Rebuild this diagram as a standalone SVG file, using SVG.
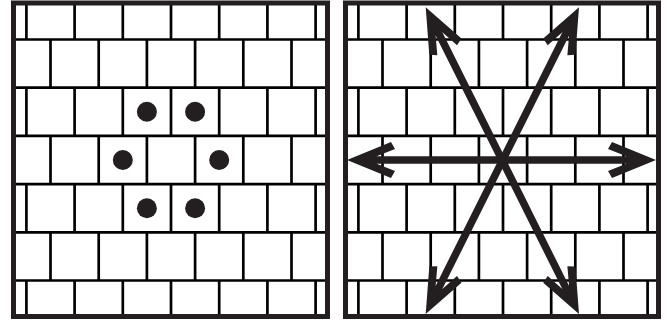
<svg xmlns="http://www.w3.org/2000/svg" xmlns:xlink="http://www.w3.org/1999/xlink" width="668" height="320" viewBox="0 0 668 320">
  <style>
    .border { fill: none; stroke: #231f20; stroke-width: 5; }
    .grid line { stroke: #000; stroke-width: 2.7; }
    .dot { fill: #231f20; }
    .shaft { stroke: #231f20; stroke-width: 7.5; stroke-linecap: butt; }
    .head { fill: #231f20; }
  </style>
  <defs>
    <g id="bricks" class="grid">
      <line x1="13.5" y1="39.5" x2="327.5" y2="39.5"/>
      <line x1="13.5" y1="87.7" x2="327.5" y2="87.7"/>
      <line x1="13.5" y1="135.9" x2="327.5" y2="135.9"/>
      <line x1="13.5" y1="184.1" x2="327.5" y2="184.1"/>
      <line x1="13.5" y1="232.3" x2="327.5" y2="232.3"/>
      <line x1="13.5" y1="280.5" x2="327.5" y2="280.5"/>
      <g id="oddrow">
        <line x1="26.4" y1="3" x2="26.4" y2="39.5"/>
        <line x1="74.6" y1="3" x2="74.6" y2="39.5"/>
        <line x1="122.8" y1="3" x2="122.8" y2="39.5"/>
        <line x1="171" y1="3" x2="171" y2="39.5"/>
        <line x1="219.2" y1="3" x2="219.2" y2="39.5"/>
        <line x1="267.4" y1="3" x2="267.4" y2="39.5"/>
        <line x1="315.6" y1="3" x2="315.6" y2="39.5"/>
      </g>
      <g id="oddrow3">
        <line x1="26.4" y1="87.7" x2="26.4" y2="135.9"/>
        <line x1="74.6" y1="87.7" x2="74.6" y2="135.9"/>
        <line x1="122.8" y1="87.7" x2="122.8" y2="135.9"/>
        <line x1="171" y1="87.7" x2="171" y2="135.9"/>
        <line x1="219.2" y1="87.7" x2="219.2" y2="135.9"/>
        <line x1="267.4" y1="87.7" x2="267.4" y2="135.9"/>
        <line x1="315.6" y1="87.7" x2="315.6" y2="135.9"/>
      </g>
      <use xlink:href="#oddrow3" transform="translate(0,96.4)"/>
      <g transform="translate(0,277.5)">
        <line x1="26.4" y1="3" x2="26.4" y2="39.5"/>
        <line x1="74.6" y1="3" x2="74.6" y2="39.5"/>
        <line x1="122.8" y1="3" x2="122.8" y2="39.5"/>
        <line x1="171" y1="3" x2="171" y2="39.5"/>
        <line x1="219.2" y1="3" x2="219.2" y2="39.5"/>
        <line x1="267.4" y1="3" x2="267.4" y2="39.5"/>
        <line x1="315.6" y1="3" x2="315.6" y2="39.5"/>
      </g>
      <g id="evenrow">
        <line x1="50.5" y1="39.5" x2="50.5" y2="87.7"/>
        <line x1="98.7" y1="39.5" x2="98.7" y2="87.7"/>
        <line x1="146.9" y1="39.5" x2="146.9" y2="87.7"/>
        <line x1="195.1" y1="39.5" x2="195.1" y2="87.7"/>
        <line x1="243.3" y1="39.5" x2="243.3" y2="87.7"/>
        <line x1="291.5" y1="39.5" x2="291.5" y2="87.7"/>
      </g>
      <use xlink:href="#evenrow" transform="translate(0,96.4)"/>
      <use xlink:href="#evenrow" transform="translate(0,192.8)"/>
    </g>
    <path id="head" class="head" d="M0,0 L44,-18 L48,-11 L29.7,-3.75 L29.7,3.75 L48,11 L44,18 Z"/>
  </defs>

  <g id="panel-left">
    <use xlink:href="#bricks"/>
    <rect class="border" x="13.5" y="3" width="314" height="313.5"/>
    <g id="dots">
      <circle class="dot" cx="146.9" cy="111.8" r="10"/>
      <circle class="dot" cx="195.1" cy="111.8" r="10"/>
      <circle class="dot" cx="122.8" cy="160" r="10"/>
      <circle class="dot" cx="219.2" cy="160" r="10"/>
      <circle class="dot" cx="146.9" cy="208.2" r="10"/>
      <circle class="dot" cx="195.1" cy="208.2" r="10"/>
    </g>
  </g>

  <g id="panel-right">
    <use xlink:href="#bricks" transform="translate(332,0)"/>
    <rect class="border" x="345.5" y="3" width="313" height="313.5"/>
  </g>

  <g id="arrows">
    <line class="shaft" x1="376" y1="160" x2="627" y2="160"/>
    <line class="shaft" x1="438.67" y1="33.23" x2="566.03" y2="288.07"/>
    <line class="shaft" x1="566.03" y1="33.23" x2="438.67" y2="288.07"/>
    <use xlink:href="#head" transform="translate(347,160)"/>
    <use xlink:href="#head" transform="translate(656,160) rotate(180)"/>
    <use xlink:href="#head" transform="translate(425.7,7.3) rotate(63.43)"/>
    <use xlink:href="#head" transform="translate(579,314) rotate(243.43)"/>
    <use xlink:href="#head" transform="translate(579,7.3) rotate(116.57)"/>
    <use xlink:href="#head" transform="translate(425.7,314) rotate(-63.43)"/>
  </g>
</svg>
